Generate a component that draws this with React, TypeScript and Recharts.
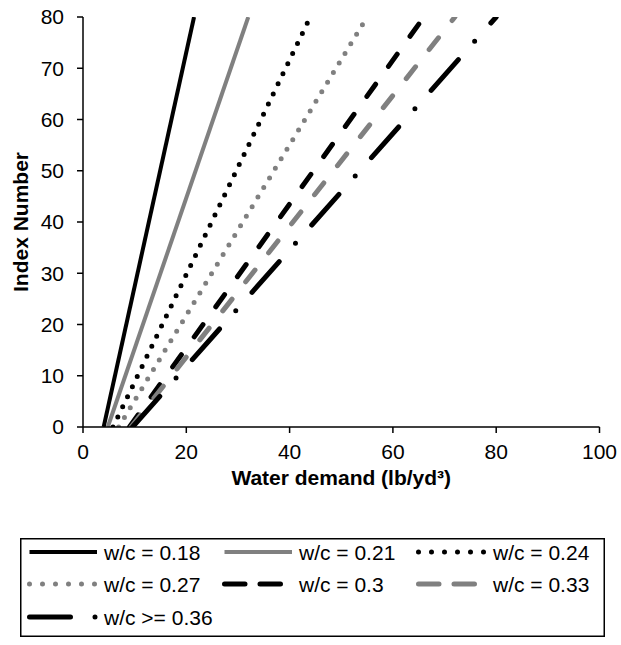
import { LineChart, Line, XAxis, YAxis, Legend } from "recharts";

const FONT = "'Liberation Sans', Arial, sans-serif";

// series labels
const seriesNames = [
  "w/c = 0.18",
  "w/c = 0.21",
  "w/c = 0.24",
  "w/c = 0.27",
  "w/c = 0.3",
  "w/c = 0.33",
  "w/c >= 0.36",
];

// water demand where each line meets index 0 and index 80
const demandAtZero = [4.0, 4.8, 5.8, 6.9, 9.0, 9.3, 9.6];
const demandAtTop = [21.5, 32.0, 44.0, 55.0, 66.0, 72.0, 80.0];
const indexValues = [0, 80];

const xTicks = [0, 20, 40, 60, 80, 100];
const yTicks = [0, 10, 20, 30, 40, 50, 60, 70, 80];

// line looks, plot and legend sample
const looks = [
  { color: "#000000", width: 4, dash: undefined, legendDash: undefined },
  { color: "#808080", width: 4, dash: undefined, legendDash: undefined },
  { color: "#000000", width: 5, dash: "0 11.2", legendDash: "0 13" },
  { color: "#808080", width: 5, dash: "0 11.2", legendDash: "0 13" },
  { color: "#000000", width: 5, dash: "15 22", legendDash: "20.5 15" },
  { color: "#808080", width: 5, dash: "15 22", legendDash: "20.5 15" },
  { color: "#000000", width: 5, dash: "41 24.5 0 24.5", legendDash: "41 24.5 0 24.5" },
];

const seriesData = seriesNames.map((name, i) => ({
  name,
  points: [
    { x: demandAtZero[i], y: indexValues[0] },
    { x: demandAtTop[i], y: indexValues[1] },
  ],
}));

const YTitle = (props: any) => {
  const vb = props.viewBox ?? { x: 0, y: 17, width: 83, height: 410 };
  const cx = vb.x + 28;
  const cy = vb.y + vb.height / 2;
  return (
    <text
      x={cx}
      y={cy}
      transform={`rotate(-90, ${cx}, ${cy})`}
      textAnchor="middle"
      fontFamily={FONT}
      fontSize={21}
      fontWeight="bold"
      fill="#000"
    >
      Index Number
    </text>
  );
};

const XTitle = (props: any) => {
  const vb = props.viewBox ?? { x: 83, y: 427, width: 516, height: 70 };
  return (
    <text
      x={vb.x + vb.width / 2}
      y={vb.y + 58}
      textAnchor="middle"
      fontFamily={FONT}
      fontSize={21}
      fontWeight="bold"
      fill="#000"
    >
      Water demand (lb/yd³)
    </text>
  );
};

const colStarts = [7, 202, 396];
const rowCenters = [14, 46, 79];

const LegendBox = () => (
  <svg width={585} height={99} style={{ display: "block" }}>
    <rect x={0.75} y={0.75} width={583.5} height={97.5} fill="#fff" stroke="#000" strokeWidth={1.5} />
    {seriesNames.map((name, i) => {
      const sx = colStarts[i % 3];
      const cy = rowCenters[Math.floor(i / 3)];
      const lk = looks[i];
      return (
        <g key={name}>
          <line
            x1={sx + 2.5}
            x2={sx + 70}
            y1={cy}
            y2={cy}
            stroke={lk.color}
            strokeWidth={lk.width}
            strokeDasharray={lk.legendDash}
            strokeLinecap={lk.dash ? "round" : "butt"}
          />
          <text x={sx + 77} y={cy} dominantBaseline="central" fontFamily={FONT} fontSize={21} fill="#000">
            {name}
          </text>
        </g>
      );
    })}
  </svg>
);

export default function App() {
  return (
    <div style={{ position: "absolute", left: 0, top: 0 }}>
      <LineChart width={621} height={645} margin={{ top: 17, right: 21.5, bottom: 148, left: 0 }}>
        <XAxis
          type="number"
          dataKey="x"
          domain={[0, 100]}
          ticks={xTicks}
          height={70}
          tickSize={6}
          tickMargin={11}
          axisLine={{ stroke: "#000", strokeWidth: 1.5 }}
          tickLine={{ stroke: "#000", strokeWidth: 1.5 }}
          tick={{ fill: "#000", fontSize: 21, fontFamily: FONT }}
          allowDataOverflow
          label={XTitle}
        />
        <YAxis
          type="number"
          dataKey="y"
          domain={[0, 80]}
          ticks={yTicks}
          width={83}
          tickSize={6}
          tickMargin={13}
          axisLine={{ stroke: "#000", strokeWidth: 1.5 }}
          tickLine={{ stroke: "#000", strokeWidth: 1.5 }}
          tick={{ fill: "#000", fontSize: 21, fontFamily: FONT }}
          allowDataOverflow
          label={YTitle}
        />
        {seriesData.map((s, i) => (
          <Line
            key={s.name}
            name={s.name}
            data={s.points}
            dataKey="y"
            type="linear"
            stroke={looks[i].color}
            strokeWidth={looks[i].width}
            strokeDasharray={looks[i].dash}
            strokeLinecap={looks[i].dash ? "round" : "butt"}
            dot={false}
            activeDot={false}
            isAnimationActive={false}
          />
        ))}
        <Legend
          layout="horizontal"
          verticalAlign="middle"
          align="center"
          wrapperStyle={{ left: 20, top: 538, width: 585, height: 99 }}
          content={LegendBox}
        />
      </LineChart>
    </div>
  );
}
